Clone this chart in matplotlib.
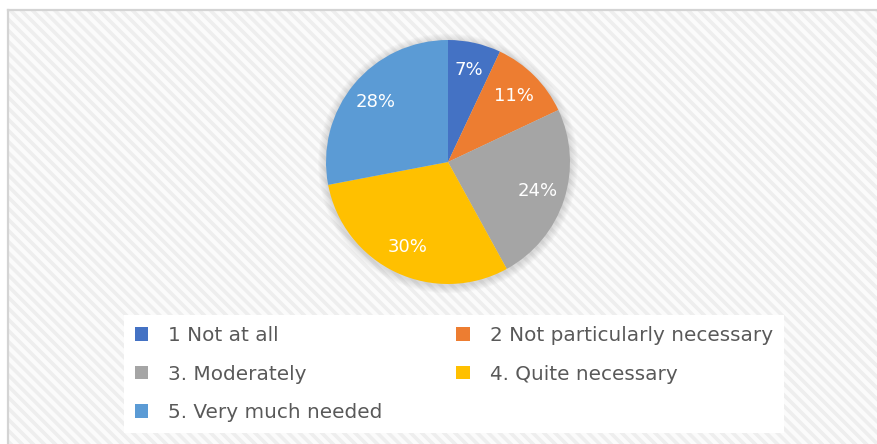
import numpy as np
import matplotlib.pyplot as plt
from matplotlib.patches import Circle, Rectangle

# respostas (%) por categoria
categorias = ['1 Not at all', '2 Not particularly necessary', '3. Moderately',
              '4. Quite necessary', '5. Very much needed']
valores = [7, 11, 24, 30, 28]
cores = ['#4472C4', '#ED7D31', '#A5A5A5', '#FFC000', '#5B9BD5']

plt.rcParams['font.family'] = 'DejaVu Sans'
plt.rcParams['hatch.color'] = '#eeeeee'
plt.rcParams['hatch.linewidth'] = 2.6

W, H = 877, 444
fig = plt.figure(figsize=(W / 100, H / 100), dpi=100)
fig.patch.set_facecolor('white')

# fundo listrado da área do gráfico
bg = fig.add_axes([8 / W, 0, 1 - 8 / W, 1 - 10 / H])
bg.set_xlim(0, 1)
bg.set_ylim(0, 1)
bg.add_patch(Rectangle((0, 0), 1, 1, transform=bg.transAxes, facecolor='#fbfbfb',
                       hatch='\\\\\\', edgecolor='#eeeeee', linewidth=0, zorder=0))
bg.set_xticks([])
bg.set_yticks([])
for lado in ['right', 'bottom']:
    bg.spines[lado].set_visible(False)
for lado in ['left', 'top']:
    bg.spines[lado].set_color('#d4d4d4')
    bg.spines[lado].set_linewidth(1.6)

# pizza
cx, cy, r = 448, 162, 122
meia = 135
ax = fig.add_axes([(cx - meia) / W, (H - cy - meia) / H, 2 * meia / W, 2 * meia / H])
ax.set_facecolor('none')

wedges, textos, pct = ax.pie(valores, colors=cores, startangle=90, counterclock=False,
                             autopct=lambda p: f'{p:.0f}%', pctdistance=0.77,
                             wedgeprops={'linewidth': 0}, radius=1.0,
                             textprops={'color': 'white', 'fontsize': 13})
for w in wedges:
    w.set_zorder(2)
for t in pct:
    t.set_zorder(3)

# sombra suave em volta
for k in range(8):
    ax.add_patch(Circle((0.0, -0.012), 1.0 + 0.008 * (k + 1), color='#808080',
                        alpha=0.035, linewidth=0, zorder=0))

# pie() mexe nos limites, então ajusta depois
lim = meia / r
ax.set_xlim(-lim, lim)
ax.set_ylim(-lim, lim)
ax.set_aspect('equal')
ax.axis('off')

# legenda em duas colunas, preenchida por linha
ordem = [0, 2, 4, 1, 3]
leg = fig.legend([wedges[i] for i in ordem], [categorias[i] for i in ordem],
                 ncol=2, mode='expand', loc='upper left',
                 bbox_to_anchor=(124 / W, 1 - 315 / H, 660 / W, 0),
                 fontsize=14.4, frameon=True, fancybox=False, framealpha=1,
                 facecolor='white', edgecolor='white', borderpad=0.55,
                 borderaxespad=0, handlelength=0.67, handleheight=0.67,
                 handletextpad=1.0, labelspacing=0.98, labelcolor='#595959')
leg.get_frame().set_linewidth(0)

fig.savefig('out.png', dpi=100)
